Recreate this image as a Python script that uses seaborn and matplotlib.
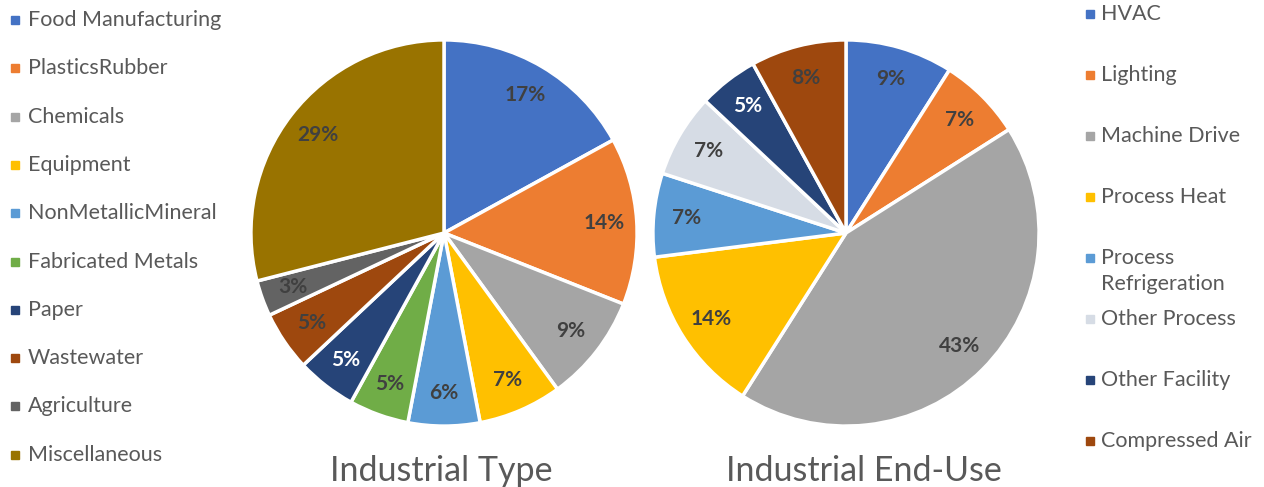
import matplotlib
matplotlib.use("Agg")
import matplotlib.pyplot as plt
import seaborn as sns
from matplotlib.patches import Rectangle

# Daten: Industrietyp
type_labels = ["Food Manufacturing", "PlasticsRubber", "Chemicals", "Equipment",
               "NonMetallicMineral", "Fabricated Metals", "Paper", "Wastewater",
               "Agriculture", "Miscellaneous"]
type_values = [17, 14, 9, 7, 6, 5, 5, 5, 3, 29]
type_colors = ["#4472C4", "#ED7D31", "#A5A5A5", "#FFC000", "#5B9BD5",
               "#70AD47", "#264478", "#9E480E", "#636363", "#997300"]

# Daten: Endnutzung
use_labels = ["HVAC", "Lighting", "Machine Drive", "Process Heat",
              "Process\nRefrigeration", "Other Process", "Other Facility", "Compressed Air"]
use_values = [9, 7, 43, 14, 7, 7, 5, 8]
use_colors = ["#4472C4", "#ED7D31", "#A5A5A5", "#FFC000", "#5B9BD5",
              "#D6DCE5", "#264478", "#9E480E"]

sns.set_theme(style="white")
plt.rcParams["font.family"] = ["Lato", "DejaVu Sans"]

W, H = 1264, 487
fig = plt.figure(figsize=(W / 100, H / 100), dpi=100)
fig.patch.set_facecolor("white")


def draw_pie(cx, cy, r, values, colors, dark_idx):
    ax = fig.add_axes([(cx - r) / W, 1 - (cy + r) / H, 2 * r / W, 2 * r / H])
    wedges, texts, autotexts = ax.pie(
        values, colors=sns.color_palette(colors), startangle=90, counterclock=False,
        autopct="%1.0f%%", pctdistance=0.83,
        wedgeprops=dict(edgecolor="white", linewidth=2.5),
        textprops=dict(fontsize=15, fontweight="bold", color="#404040"))
    for i in dark_idx:
        autotexts[i].set_color("white")
    ax.set_xlim(-1.01, 1.01)
    ax.set_ylim(-1.01, 1.01)
    ax.set_aspect("equal")
    ax.axis("off")
    return ax


draw_pie(444, 233, 195, type_values, type_colors, [6])
draw_pie(846, 233, 195, use_values, use_colors, [6])

# Legende links
for i, (lab, col) in enumerate(zip(type_labels, type_colors)):
    y = 20 + i * 48.3
    fig.patches.append(Rectangle((11 / W, 1 - (y + 4) / H), 8 / W, 8 / H,
                                 transform=fig.transFigure, color=col, figure=fig))
    fig.text(28 / W, 1 - y / H, lab, fontsize=15.5, color="#595959", va="center", ha="left")

# Legende rechts
for i, (lab, col) in enumerate(zip(use_labels, use_colors)):
    y = 14 + i * 61
    fig.patches.append(Rectangle((1086 / W, 1 - (y + 4) / H), 8 / W, 8 / H,
                                 transform=fig.transFigure, color=col, figure=fig))
    fig.text(1101 / W, 1 - (y - 10) / H, lab, fontsize=15.5, color="#595959",
             va="top", ha="left", linespacing=1.4)

# Titel
fig.text(441 / W, 1 - 471 / H, "Industrial Type", fontsize=24.5, color="#595959",
         ha="center", va="center")
fig.text(864 / W, 1 - 471 / H, "Industrial End-Use", fontsize=24.5, color="#595959",
         ha="center", va="center")

plt.savefig("out.png", dpi=100, facecolor="white")
